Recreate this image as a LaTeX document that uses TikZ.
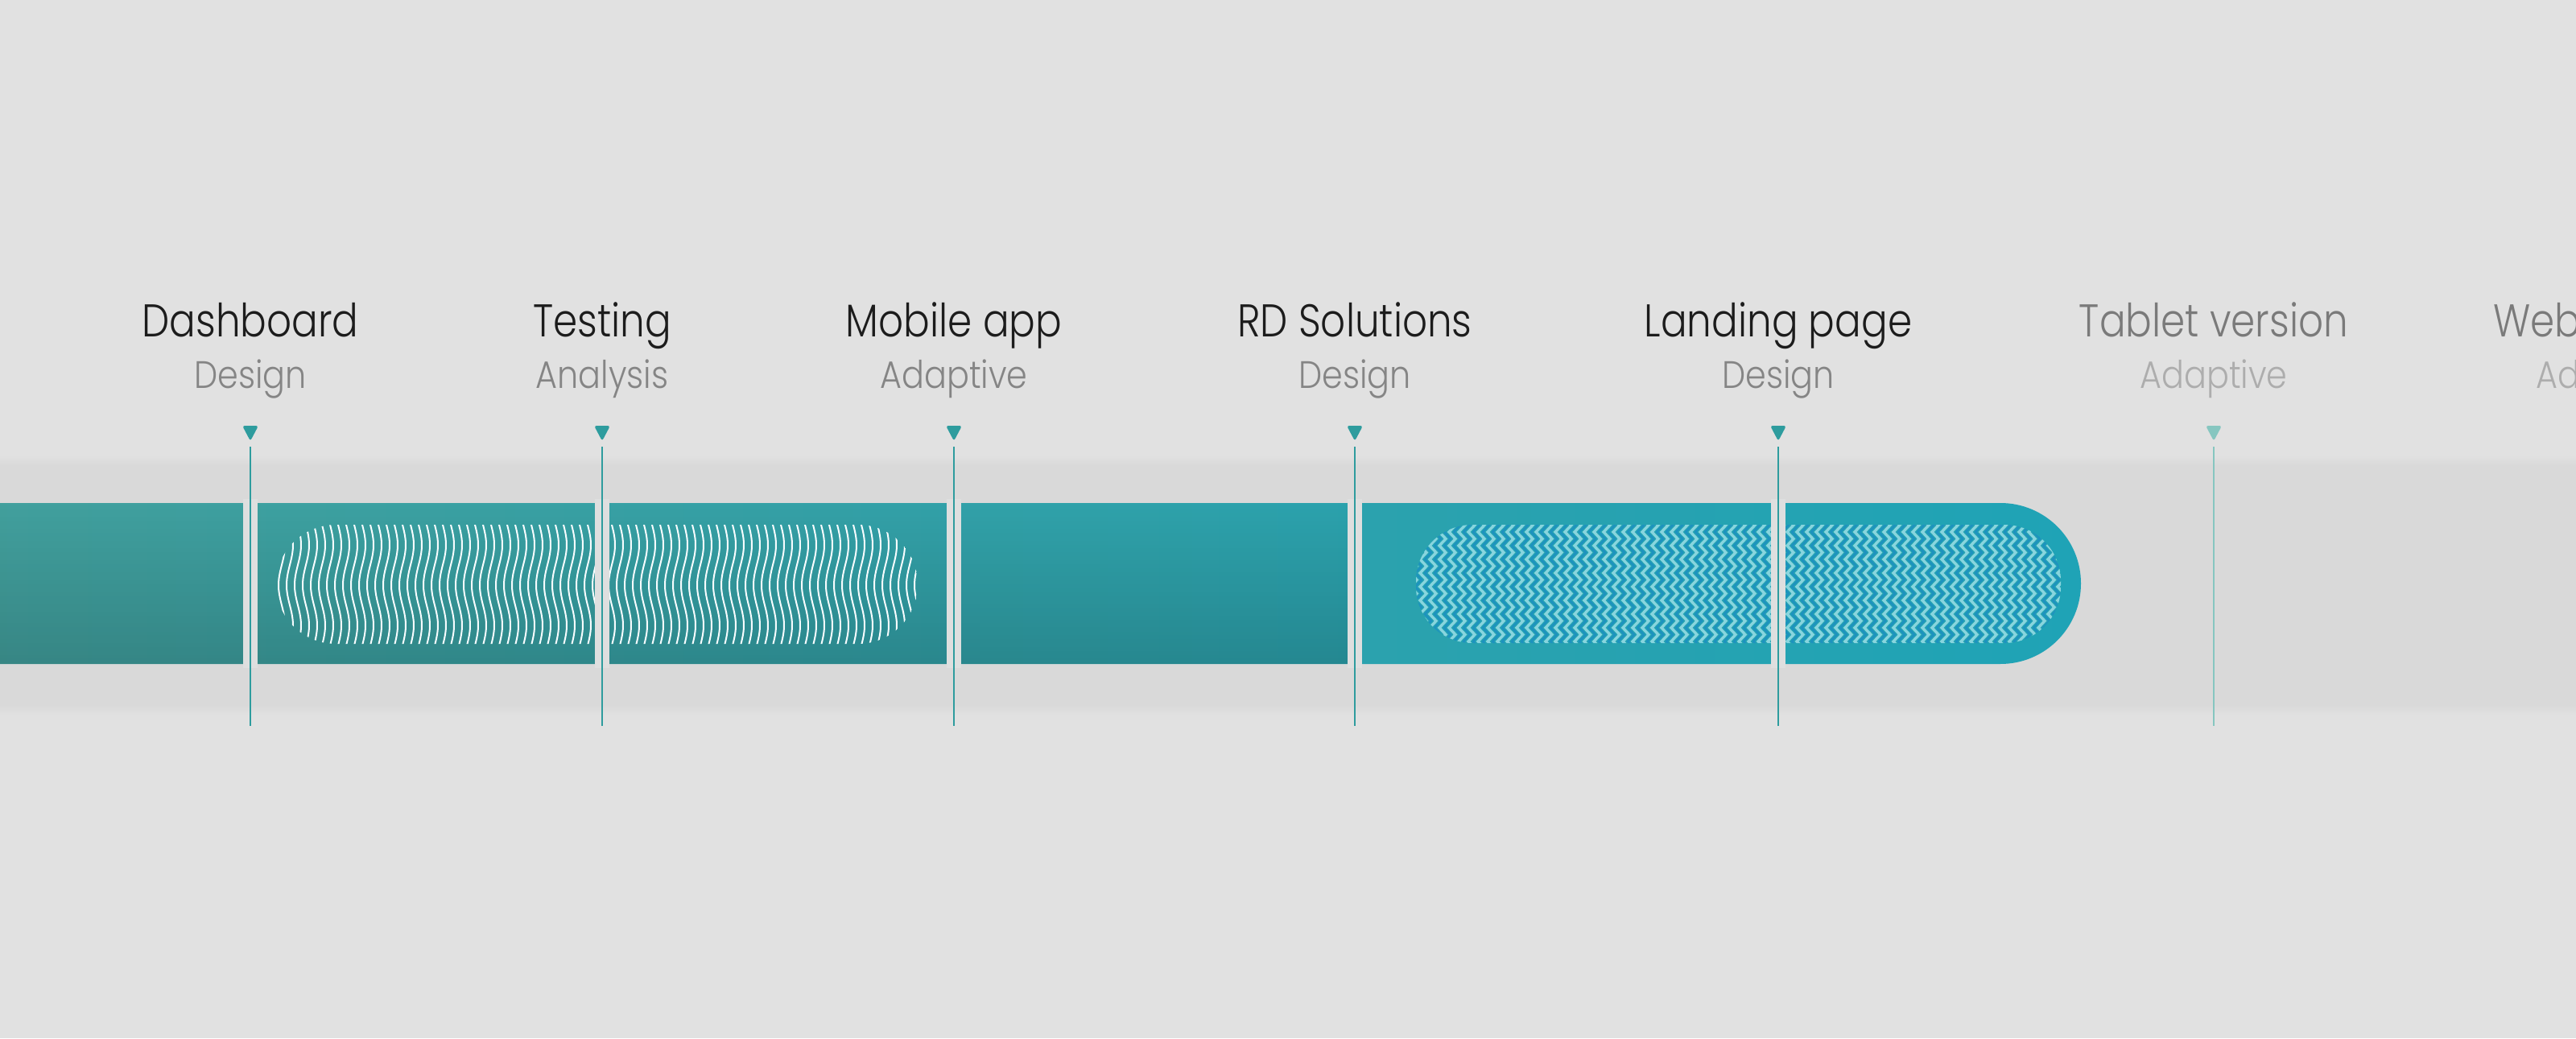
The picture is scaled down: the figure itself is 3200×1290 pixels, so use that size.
\documentclass[tikz,border=0pt]{standalone}
\usepackage{fontspec}
\setmainfont{Poppins}[UprightFont=* Light, FakeStretch=0.87]
\newfontfamily\titlefam{Poppins}[UprightFont=* Light, FakeStretch=0.85]
\usetikzlibrary{calc,fadings}
\definecolor{bg}{HTML}{E1E1E1}
\definecolor{band}{HTML}{D9D9D9}
\definecolor{gapc}{HTML}{DEDFDF}
\definecolor{barL}{HTML}{44A09C}
\definecolor{barM}{HTML}{25A6AB}
\definecolor{barR}{HTML}{1FA3B6}
\definecolor{mk}{HTML}{2E9C9E}
\definecolor{mkfade}{HTML}{86C6C0}
\definecolor{ttl}{HTML}{1C1C1C}
\definecolor{sub}{HTML}{858585}
\definecolor{ttlfade}{HTML}{7A7A7A}
\definecolor{subfade}{HTML}{ADADAD}
\definecolor{zzlight}{HTML}{88D5DE}
\definecolor{zzdark}{HTML}{1D92BF}
\definecolor{zzbg}{HTML}{26A3B3}
\tikzfading[name=fadedown, top color=transparent!100, bottom color=transparent!0]
\tikzset{
  titletext/.style={anchor=base, font=\titlefam\fontsize{57}{60}\selectfont, text=ttl, inner sep=0pt},
  subtext/.style={anchor=base, font=\fontsize{47.5}{50}\selectfont, text=sub, inner sep=0pt},
  mkline/.style={draw=mk, line width=2.6pt},
  mktri/.style={fill=mk, rounded corners=3pt},
  gapbox/.style={fill=gapc},
  waveline/.style={draw=white!97!cyan, line width=2pt, line cap=round},
  zzl/.style={draw=zzlight, line width=3.4pt},
  zzd/.style={draw=zzdark, line width=2.4pt},
}
\begin{document}
\begin{tikzpicture}[x=1pt,y=-1pt]
\useasboundingbox (0,0) rectangle (3200,1290);
\clip (0,0) rectangle (3200,1290);
\fill[bg] (0,0) rectangle (3200,1290);
% band
\fill[band] (0,578) rectangle (3200,876);
\shade[top color=bg,bottom color=band] (0,566) rectangle (3200,578);
\shade[top color=band,bottom color=bg] (0,876) rectangle (3200,888);
% bar
\shade[left color=barL, middle color=barM, right color=barR, rounded corners=100pt] (-150,625) rectangle (2585,825);
\fill[black, fill opacity=0.16, path fading=fadedown] (0,625) rectangle (1683,825);
% wave pattern
\begin{scope}
\clip[rounded corners=74pt] (343,652) rectangle (1140,800);
\foreach \xx in {340,350,...,1150}
  \draw[waveline] plot[variable=\t, domain=646:806, samples=25, smooth] ({\xx+4*sin(3.6*(\t-652))}, {\t});
\end{scope}
% zigzag pattern
\begin{scope}
\clip[rounded corners=70pt] (1759,652) rectangle (2560,799);
\fill[zzbg] (1750,645) rectangle (2570,810);
\foreach \xx in {1740,1752,...,2580} {
  \draw[zzd] ({\xx+6},644) \foreach \k in {0,...,9} { -- ({\xx+6+8},{644+17*\k+8.5}) -- ({\xx+6},{644+17*\k+17}) };
  \draw[zzl] (\xx,644) \foreach \k in {0,...,9} { -- ({\xx+8},{644+17*\k+8.5}) -- (\xx,{644+17*\k+17}) };
}
\end{scope}
% gaps in bar
\foreach \mx in {311,748,1185,1683,2209}
  \fill[gapbox] ({\mx-9},620) rectangle ({\mx+9},830);
% markers
\foreach \mx/\nm/\col in {311/a/mk,748/b/mk,1185/c/mk,1683/d/mk,2209/e/mk,2750/f/mkfade} {
  \coordinate (\nm top) at (\mx,555);
  \coordinate (\nm bot) at (\mx,902);
  \coordinate (\nm tri) at (\mx,529);
  \draw[mkline, draw=\col] (\nm top) -- (\nm bot);
  \fill[mktri, fill=\col] ($(\nm tri)+(-10,0)$) -- ($(\nm tri)+(10,0)$) -- ($(\nm tri)+(0,19)$) -- cycle;
}
% labels
\node[titletext] (t1) at (311,418) {Dashboard};
\node[subtext] (s1) at (311,482) {Design};
\node[titletext] (t2) at (748,418) {Testing};
\node[subtext] (s2) at (748,482) {Analysis};
\node[titletext] (t3) at (1185,418) {Mobile app};
\node[subtext] (s3) at (1185,482) {Adaptive};
\node[titletext] (t4) at (1683,418) {RD Solutions};
\node[subtext] (s4) at (1683,482) {Design};
\node[titletext] (t5) at (2209,418) {Landing page};
\node[subtext] (s5) at (2209,482) {Design};
\node[titletext, text=ttlfade] (t6) at (2750,418) {Tablet version};
\node[subtext, text=subfade] (s6) at (2750,482) {Adaptive};
\node[titletext, text=ttlfade, anchor=base west] (t7) at (3097,418) {Web};
\node[subtext, text=subfade, anchor=base west] (s7) at (3150,482) {Ad};
\end{tikzpicture}
\end{document}
